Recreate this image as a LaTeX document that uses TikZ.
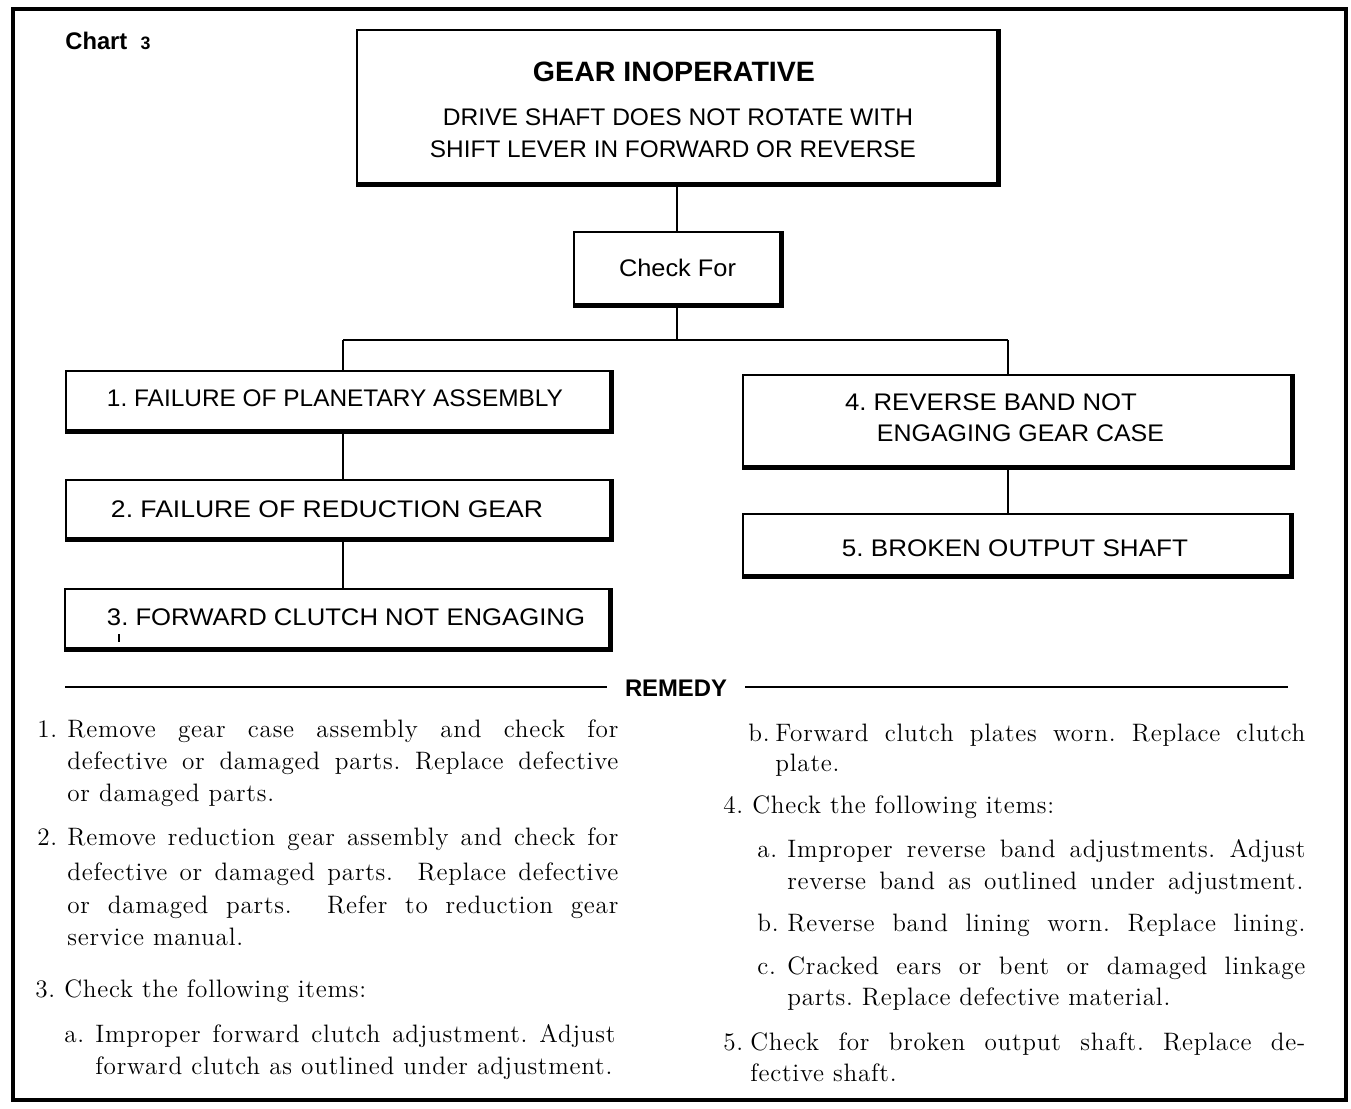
\documentclass[tikz,border=0pt]{standalone}
\usepackage{fontspec}
\usepackage{graphicx}
\setmainfont{Latin Modern Roman}[LetterSpace=3]
\newfontfamily\boxfont{Liberation Sans}
\newcommand\fitw[2]{\resizebox{#1}{\height}{#2}}
\newcommand\jline[2]{\makebox[#1][s]{#2}}
\frenchspacing
\begin{document}
\begin{tikzpicture}[x=0.5pt,y=-0.5pt,
  boxshape/.style={draw, line width=1.2pt, inner sep=0pt},
  conn/.style={line width=1.4pt},
  boxtext/.style={inner sep=0pt, font=\boxfont\fontsize{12}{14}\selectfont},
  boldtext/.style={inner sep=0pt, font=\boxfont\bfseries\fontsize{12}{14}\selectfont},
  body/.style={anchor=base west, inner sep=0pt, font=\fontsize{12.6}{15}\selectfont},
  shade/.style={line width=1.6pt}]
\fill[white] (0,0) rectangle (1351,1109);
\useasboundingbox (0,0) rectangle (1351,1109);
% outer frame
\draw[line width=2.2pt] (13,9) rectangle (1346,1100);
% title
\node[boldtext, anchor=base west] (chart) at (65,49) {\fitw{42.5pt}{Chart~~{\fontsize{9}{9}\selectfont 3}}};
% boxes
\node[boxshape, minimum width=320pt, minimum height=76.5pt] (top) at (677,106.5) {};
\node[boxshape, minimum width=103pt, minimum height=36pt] (check) at (677,268) {};
\node[boxshape, minimum width=272pt, minimum height=29.5pt] (b1) at (338,400.5) {};
\node[boxshape, minimum width=272pt, minimum height=29pt] (b2) at (338,509) {};
\node[boxshape, minimum width=272pt, minimum height=29.5pt] (b3) at (337,618.5) {};
\node[boxshape, minimum width=274pt, minimum height=45.5pt] (b4) at (1017,420.5) {};
\node[boxshape, minimum width=273.5pt, minimum height=30.5pt] (b5) at (1016.5,544.5) {};
\foreach \b in {top,check,b1,b2,b3,b4,b5}{
  \draw[shade] ([xshift=0.2pt,yshift=-0.6pt]\b.south west) -- ([xshift=0.6pt,yshift=-0.6pt]\b.south east) -- ([xshift=0.6pt,yshift=-0.2pt]\b.north east);
}
% box texts
\node[boldtext, font=\boxfont\bfseries\fontsize{14}{16}\selectfont] (t1) at (674,72) {\fitw{141pt}{GEAR INOPERATIVE}};
\node[boxtext] (t2) at (678,117) {\fitw{235pt}{DRIVE SHAFT DOES NOT ROTATE WITH}};
\node[boxtext] (t3) at (673,149) {\fitw{243pt}{SHIFT LEVER IN FORWARD OR REVERSE}};
\node[boxtext] (tc) at (677.5,268) {\fitw{58.5pt}{Check For}};
\node[boxtext] (tb1) at (335,398) {\fitw{228pt}{1. FAILURE OF PLANETARY ASSEMBLY}};
\node[boxtext] (tb2) at (327,509) {\fitw{216pt}{2. FAILURE OF REDUCTION GEAR}};
\node[boxtext] (tb3) at (346,617) {\fitw{239pt}{3. FORWARD CLUTCH NOT ENGAGING}};
\node[boxtext] (tb4a) at (991,402) {\fitw{146pt}{4. REVERSE BAND NOT}};
\node[boxtext] (tb4b) at (1020.5,433) {\fitw{143.5pt}{ENGAGING GEAR CASE}};
\node[boxtext] (tb5) at (1015,548) {\fitw{173pt}{5. BROKEN OUTPUT SHAFT}};
\coordinate (tick) at (119,634);
\draw[line width=1pt] (tick) -- ++(0,8);
% connectors
\coordinate (jl) at (343,340);
\coordinate (jr) at (1008,340);
\draw[conn] (top.south) -- (check.north);
\draw[conn] (check.south) -- (check.south |- jl);
\draw[conn] (jl) -- (jr);
\draw[conn] (jl) -- (jl |- b1.north);
\draw[conn] (jl |- b1.south) -- (jl |- b2.north);
\draw[conn] (jl |- b2.south) -- (jl |- b3.north);
\draw[conn] (jr) -- (jr |- b4.north);
\draw[conn] (jr |- b4.south) -- (jr |- b5.north);
% remedy heading
\node[boldtext, inner xsep=9pt] (remedy) at (676,688) {\fitw{51pt}{REMEDY}};
\coordinate (rl) at (65,687);
\coordinate (rr) at (1288,687);
\draw[line width=0.8pt] (rl) -- (remedy.west |- rl);
\draw[line width=0.8pt] (remedy.east |- rr) -- (rr);
% left column
\node[body] (n1) at (37,737) {1.};
\node[body] (l1a) at (67,737) {\jline{275.5pt}{Remove gear case assembly and check for}};
\node[body] (l1b) at (67,769) {\jline{275.5pt}{defective or damaged parts. Replace defective}};
\node[body] (l1c) at (67,801) {or damaged parts.};
\node[body] (n2) at (37,845) {2.};
\node[body] (l2a) at (67,845) {\jline{275.5pt}{Remove reduction gear assembly and check for}};
\node[body] (l2b) at (67,880) {\jline{275.5pt}{defective or damaged parts.\ \ Replace defective}};
\node[body] (l2c) at (67,913) {\jline{275.5pt}{or damaged parts.\ \ Refer to reduction gear}};
\node[body] (l2d) at (67,945) {service manual.};
\node[body] (l3) at (35,997) {3.\ Check the following items:};
\node[body] (n3a) at (64,1042) {a.};
\node[body] (l3a) at (95,1042) {\jline{260pt}{Improper forward clutch adjustment. Adjust}};
\node[body] (l3b) at (95,1074) {\jline{258.5pt}{forward clutch as outlined under adjustment.}};
% right column
\node[body] (n3b) at (748,741) {b.};
\node[body] (r1) at (775,741) {\jline{265pt}{Forward clutch plates worn. Replace clutch}};
\node[body] (r2) at (775,771) {plate.};
\node[body] (r3) at (723,813) {4.\ Check the following items:};
\node[body] (n4a) at (757,857) {a.};
\node[body] (r4) at (787,857) {\jline{259pt}{Improper reverse band adjustments. Adjust}};
\node[body] (r5) at (787,889) {\jline{258pt}{reverse band as outlined under adjustment.}};
\node[body] (n4b) at (757,931) {b.};
\node[body] (r6) at (787,931) {\jline{259pt}{Reverse band lining worn. Replace lining.}};
\node[body] (n4c) at (757,974) {c.};
\node[body] (r7) at (787,974) {\jline{259pt}{Cracked ears or bent or damaged linkage}};
\node[body] (r8) at (787,1005) {parts. Replace defective material.};
\node[body] (n5) at (723,1050) {5.};
\node[body] (r9) at (750,1050) {\jline{277.5pt}{Check for broken output shaft. Replace de-}};
\node[body] (r10) at (750,1081) {fective shaft.};
\end{tikzpicture}
\end{document}
